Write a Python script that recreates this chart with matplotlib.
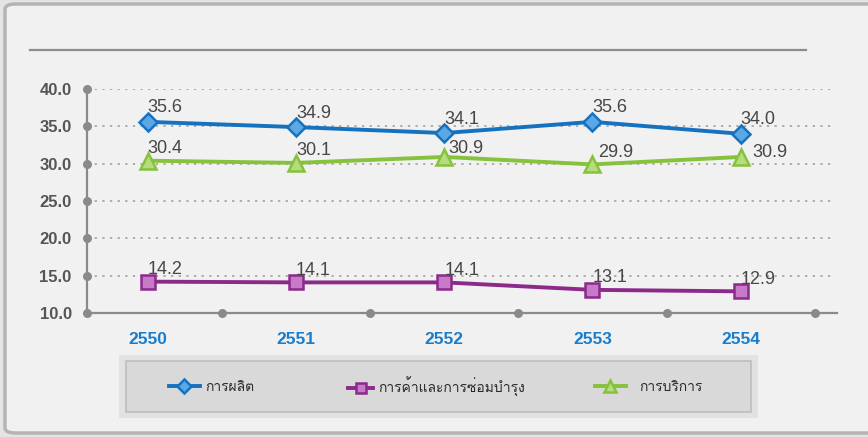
import matplotlib
matplotlib.use('Agg')
import matplotlib.pyplot as plt
from matplotlib import font_manager
from matplotlib.ft2font import FT2Font
from matplotlib.patches import FancyBboxPatch
from matplotlib.lines import Line2D
import matplotlib.transforms as mtransforms

years = ['2550', '2551', '2552', '2553', '2554']
manufacturing = [35.6, 34.9, 34.1, 35.6, 34.0]
trade = [14.2, 14.1, 14.1, 13.1, 12.9]
services = [30.4, 30.1, 30.9, 29.9, 30.9]
series_names = ['การผลิต', 'การค้าและการซ่อมบำรุง', 'การบริการ']
yticks = [10, 15, 20, 25, 30, 35, 40]

# find a font with Thai glyphs
thai_font = None
for f in font_manager.fontManager.ttflist:
    try:
        if 0x0E01 in FT2Font(f.fname).get_charmap():
            thai_font = f.name
            break
    except Exception:
        pass
fams = ['Liberation Sans'] + ([thai_font] if thai_font else []) + ['DejaVu Sans']
plt.rcParams['font.family'] = fams

W, H = 868, 437
fig = plt.figure(figsize=(W / 100, H / 100), dpi=100, facecolor='#e4e4e4')

# background panel
panel = FancyBboxPatch((5 / W, 4 / H), 880 / W, 429 / H,
                       boxstyle='round,pad=0,rounding_size=0.012',
                       transform=fig.transFigure, facecolor='#f1f1f1',
                       edgecolor='#b4b4b4', linewidth=2.5, zorder=-2)
fig.patches.append(panel)
fig.lines.append(Line2D([30 / W, 806 / W], [1 - 50 / H, 1 - 50 / H],
                        transform=fig.transFigure, color='#8c8c8c', lw=1.6,
                        zorder=-1))

ax = fig.add_axes([87 / W, 1 - 313 / H, 750 / W, 224 / H])
ax.patch.set_alpha(0)
x = list(range(len(years)))
ax.set_xlim(-0.41, 4.65)
ax.set_ylim(10, 40)

grid_c = '#8a8a8a'
for yv in yticks[1:]:
    ax.axhline(yv, xmax=0.997, color='#9a9a9a', lw=1.1, ls=(0, (1.5, 3.5)), zorder=1)

for s in ['top', 'right']:
    ax.spines[s].set_visible(False)
for s in ['left', 'bottom']:
    ax.spines[s].set_color(grid_c)
    ax.spines[s].set_linewidth(1.6)

ax.set_yticks(yticks)
ax.set_yticklabels(['%.1f' % v for v in yticks], fontsize=12, fontweight='bold',
                   color='#555555')
ax.set_xticks(x)
ax.set_xticklabels(years, fontsize=12.5, fontweight='bold', color='#1a7dcc')
ax.tick_params(axis='both', length=0)
ax.tick_params(axis='y', pad=11)
ax.tick_params(axis='x', pad=14)

# axis dots
trans_y = mtransforms.blended_transform_factory(ax.transAxes, ax.transData)
ax.scatter([0] * len(yticks), yticks, s=30, color=grid_c, transform=trans_y,
           clip_on=False, zorder=3)
trans_x = mtransforms.blended_transform_factory(ax.transData, ax.transAxes)
bounds = [i + 0.5 for i in x]
ax.scatter(bounds, [0] * len(bounds), s=30, color=grid_c, transform=trans_x,
           clip_on=False, zorder=3)

styles = [
    (manufacturing, '#1572bf', '#5aa9e6', 'D', 9),
    (trade, '#8c2a8c', '#c77ac7', 's', 10),
    (services, '#86c23c', '#b5dc7d', '^', 11),
]
lines = []
for (vals, c, fc, m, ms), name in zip(styles, series_names):
    ln, = ax.plot(x, vals, color=c, lw=2.8, marker=m, ms=ms, mfc=fc, mec=c,
                  mew=1.8, label=name, zorder=4, clip_on=False)
    lines.append(ln)

lab_kw = dict(fontsize=13, color='#474747', zorder=5)
for i, v in enumerate(manufacturing):
    ax.annotate('%.1f' % v, (i, v), xytext=(0, 14), textcoords='offset pixels',
                ha='left', va='center', **lab_kw)
green_off = [(0, 12), (0, 12), (4, 8), (6, 12), (12, 4)]
for i, v in enumerate(services):
    ax.annotate('%.1f' % v, (i, v), xytext=green_off[i], textcoords='offset pixels',
                ha='left', va='center', **lab_kw)
for i, v in enumerate(trade):
    ax.annotate('%.1f' % v, (i, v), xytext=(0, 12), textcoords='offset pixels',
                ha='left', va='center', **lab_kw)

# legend box
halo = FancyBboxPatch((119 / W, 1 - 418 / H), 639 / W, 63 / H,
                      boxstyle='square,pad=0', transform=fig.transFigure,
                      facecolor='#e2e2e2', edgecolor='none', zorder=0)
box = FancyBboxPatch((126 / W, 1 - 412 / H), 625 / W, 51 / H,
                     boxstyle='square,pad=0', transform=fig.transFigure,
                     facecolor='#d9d9d9', edgecolor='#bdbdbd', linewidth=1.2,
                     zorder=1)
fig.patches.extend([halo, box])

leg_x = [169, 348, 595]
leg_pad = [0.4, 0.4, 1.0]
leg_len = [2.2, 1.8, 2.2]
for ln, name, lx, tp, hl in zip(lines, series_names, leg_x, leg_pad, leg_len):
    lg = fig.legend([ln], [name], loc='center left',
                    bbox_to_anchor=(lx / W, 1 - 387 / H), frameon=False,
                    fontsize=10, borderpad=0, borderaxespad=0,
                    handlelength=hl, handletextpad=tp, labelcolor='#2a2a2a',
                    markerscale=0.75)

fig.savefig('out.png', dpi=100, facecolor=fig.get_facecolor())
